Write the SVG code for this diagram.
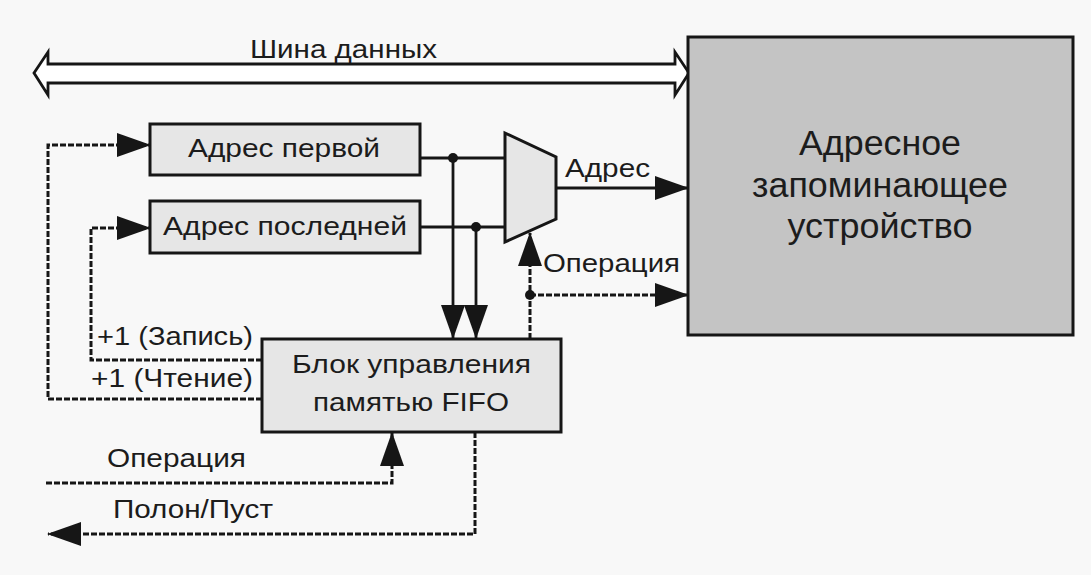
<svg xmlns="http://www.w3.org/2000/svg" width="1091" height="575" viewBox="0 0 1091 575">
  <style>
    .bg { fill: #f8f8f8; }
    .box { fill: #e6e6e6; stroke: #161616; stroke-width: 3; }
    .mem { fill: #c4c4c4; stroke: #161616; stroke-width: 3; }
    .wire { fill: none; stroke: #161616; stroke-width: 2.8; }
    .ctl { fill: none; stroke: #161616; stroke-width: 3; stroke-dasharray: 6 2; }
    .dot { fill: #161616; }
    text { font-family: "Liberation Sans", Arial, sans-serif; fill: #1c1c1c; }
    .t25 { font-size: 25px; }
    .t35 { font-size: 35px; }
    .mid { text-anchor: middle; }
  </style>
  <defs>
    <marker id="arrow" markerUnits="userSpaceOnUse" markerWidth="34" markerHeight="24" refX="33" refY="12" orient="auto">
      <path d="M0,0 L34,12 L0,24 z" fill="#161616"/>
    </marker>
  </defs>

  <rect class="bg" x="0" y="0" width="1091" height="575"/>

  <!-- data bus: hollow double-headed arrow -->
  <g id="data-bus">
    <polygon points="34,73 48,52 48,64 675,64 675,52 689,73 675,95 675,83 48,83 48,95" fill="#ffffff" stroke="#161616" stroke-width="2.8" stroke-linejoin="miter"/>
    <text class="t25" x="250" y="58" textLength="187" lengthAdjust="spacingAndGlyphs">Шина данных</text>
  </g>

  <!-- memory array -->
  <g id="memory">
    <rect class="mem" x="688" y="37" width="385" height="298"/>
    <text class="t35 mid" x="880" y="155" textLength="162" lengthAdjust="spacingAndGlyphs">Адресное</text>
    <text class="t35 mid" x="880" y="197" textLength="256" lengthAdjust="spacingAndGlyphs">запоминающее</text>
    <text class="t35 mid" x="880" y="238" textLength="185" lengthAdjust="spacingAndGlyphs">устройство</text>
  </g>

  <!-- read pointer register -->
  <g id="addr-first">
    <rect class="box" x="150" y="124" width="270" height="51"/>
    <text class="t25" x="188" y="157" textLength="192" lengthAdjust="spacingAndGlyphs">Адрес первой</text>
  </g>

  <!-- write pointer register -->
  <g id="addr-last">
    <rect class="box" x="150" y="201" width="270" height="52"/>
    <text class="t25" x="163" y="235" textLength="244" lengthAdjust="spacingAndGlyphs">Адрес последней</text>
  </g>

  <!-- address multiplexer -->
  <g id="mux">
    <polygon class="box" points="505,133 556,157 556,219 505,242"/>
  </g>

  <!-- FIFO control unit -->
  <g id="fifo-ctrl">
    <rect class="box" x="262" y="339" width="299" height="93"/>
    <text class="t25" x="292" y="373" textLength="239" lengthAdjust="spacingAndGlyphs">Блок управления</text>
    <text class="t25" x="313" y="411" textLength="196" lengthAdjust="spacingAndGlyphs">памятью FIFO</text>
  </g>

  <!-- connectors -->
  <g id="connectors">
    <!-- address paths -->
    <path class="wire" d="M420,158 H505"/>
    <path class="wire" d="M420,227 H505"/>
    <path class="wire" d="M453,158 V338" marker-end="url(#arrow)"/>
    <path class="wire" d="M476,227 V338" marker-end="url(#arrow)"/>
    <circle class="dot" cx="453" cy="158" r="5"/>
    <circle class="dot" cx="476" cy="227" r="5"/>
    <path class="wire" d="M556,188 H688" marker-end="url(#arrow)"/>

    <!-- operation select -->
    <path class="ctl" d="M530,339 V233" marker-end="url(#arrow)"/>
    <path class="ctl" d="M530,295 H688" marker-end="url(#arrow)"/>
    <circle class="dot" cx="530" cy="295" r="5"/>

    <!-- pointer increments -->
    <path class="ctl" d="M262,360 H91 V228 H150" marker-end="url(#arrow)"/>
    <path class="ctl" d="M262,399 H48 V145 H150" marker-end="url(#arrow)"/>

    <!-- external control -->
    <path class="ctl" d="M46,483 H392 V433" marker-end="url(#arrow)"/>
    <path class="ctl" d="M475,432 V534 H48" marker-end="url(#arrow)"/>
  </g>

  <!-- signal labels -->
  <g id="labels">
    <text class="t25" x="565" y="177" textLength="85" lengthAdjust="spacingAndGlyphs">Адрес</text>
    <text class="t25" x="543" y="272" textLength="137" lengthAdjust="spacingAndGlyphs">Операция</text>
    <text class="t25" x="97" y="345" textLength="156" lengthAdjust="spacingAndGlyphs">+1 (Запись)</text>
    <text class="t25" x="91" y="387" textLength="162" lengthAdjust="spacingAndGlyphs">+1 (Чтение)</text>
    <text class="t25" x="107" y="467" textLength="139" lengthAdjust="spacingAndGlyphs">Операция</text>
    <text class="t25" x="113" y="518" textLength="160" lengthAdjust="spacingAndGlyphs">Полон/Пуст</text>
  </g>
</svg>
